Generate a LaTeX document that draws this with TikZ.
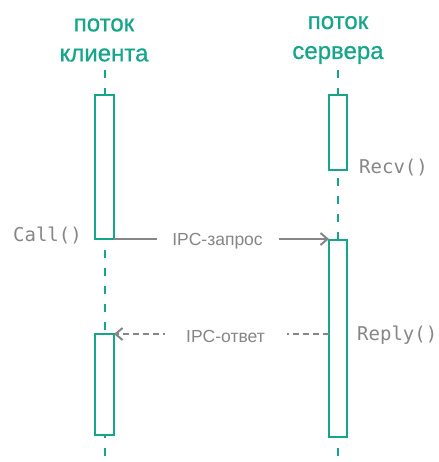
\documentclass[tikz,border=0pt]{standalone}
\usepackage{fontspec}
\setmainfont{Liberation Sans}
\newfontfamily\headfont{Liberation Sans}[FakeBold=0.7]
\newfontfamily\codefont{DejaVu Sans Mono}
\usetikzlibrary{arrows.meta}
\definecolor{teal1}{HTML}{14A58A}
\definecolor{gray1}{HTML}{868686}
\tikzset{
  title/.style={text=teal1, font=\headfont\fontsize{24}{30}\selectfont, align=center},
  actbox/.style={draw=teal1, line width=2pt, fill=white, minimum width=19pt, inner sep=0pt, outer sep=0pt},
  lifeline/.style={draw=teal1, line width=2pt, dash pattern=on 8pt off 10pt},
  code/.style={text=gray1, font=\codefont\fontsize{19}{21}\selectfont, inner sep=0pt},
  msg/.style={draw=gray1, line width=2pt, -{Straight Barb[length=7pt,width=12pt,line width=2pt]}},
  msglabel/.style={text=gray1, font=\fontsize{17.5}{20}\selectfont, fill=white, inner sep=0pt, minimum width=122pt, minimum height=20pt}
}
\begin{document}
\begin{tikzpicture}[x=1pt, y=-1pt]
  \useasboundingbox (0,0) rectangle (438,462);
  % thread headers
  \node[title] (tc) at (104,40) {поток\\клиента};
  \node[title] (ts) at (338,40) {поток\\сервера};
  % lifelines
  \coordinate (cl0) at (104.5,70);
  \coordinate (cl1) at (104.5,462);
  \coordinate (sl0) at (338,70);
  \coordinate (sl1) at (338,462);
  \draw[lifeline] (cl0) -- (cl1);
  \draw[lifeline] (sl0) -- (sl1);
  % activation boxes
  \node[actbox, minimum height=144pt] (c1) at (104.5,167) {};
  \node[actbox, minimum height=101pt] (c2) at (104.5,384.5) {};
  \node[actbox, minimum height=75pt, minimum width=18pt] (s1) at (338,132.5) {};
  \node[actbox, minimum height=197pt, minimum width=18pt] (s2) at (338,338.5) {};
  % call labels
  \node[code, anchor=east] (call) at (82,235) {Call()};
  \node[code, anchor=west] (recv) at (359,168) {Recv()};
  \node[code, anchor=west] (reply) at (357,335) {Reply()};
  % messages
  \draw[msg] (c1.south east) -- (c1.south east -| s2.west)
    node[msglabel, midway, xshift=-4pt, yshift=-2pt] (req) {IPC-запрос};
  \draw[msg, dash pattern=on 6pt off 4pt] (c2.north east -| s2.west) -- (c2.north east)
    node[msglabel, midway, xshift=4pt, yshift=-2pt] (resp) {IPC-ответ};
\end{tikzpicture}
\end{document}
